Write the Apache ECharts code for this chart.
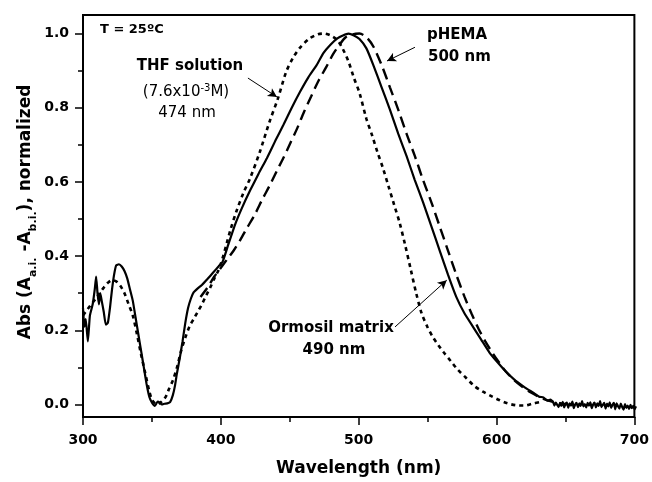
<!DOCTYPE html>
<html>
<head>
<meta charset="utf-8">
<script src="https://cdn.jsdelivr.net/npm/echarts@6/dist/echarts.min.js"></script>
<style>
  html, body { margin: 0; padding: 0; background: #fff; }
  #absChart { width: 652px; height: 482px; }
</style>
</head>
<body>
<div id="absChart"></div>
<script>
// Ormosil matrix (solid)
let ormosilX = [300, 301, 302, 303.5, 305, 307, 308.5, 309.5, 310.5, 311.5, 312.5, 313.5, 315, 316.5, 318, 319.5, 321, 322.5, 324, 326, 328, 330, 332, 334, 336, 338, 340, 342, 344, 346, 348, 350, 352, 354, 355.5, 357, 359, 361, 363, 365, 366.5, 368, 370, 372, 374, 376, 378, 380, 383, 386, 390, 394, 398, 401, 405, 410, 415, 421, 427, 433, 439, 445, 451, 457, 463, 469, 474, 479, 484, 488, 492, 496, 500, 505, 510, 516, 522, 528, 534, 540, 546, 552, 558, 564, 570, 576, 582, 588, 594, 600, 606, 612, 618, 622, 626, 630, 633, 636, 638,
  640, 641, 642, 643, 644, 645, 646, 647, 648, 649, 650, 651, 652, 653, 654, 655, 656, 657, 658, 659, 660, 661, 662, 663, 664, 665, 666, 667, 668, 669, 670, 671, 672, 673, 674, 675, 676, 677, 678, 679, 680, 681, 682, 683, 684, 685, 686, 687, 688, 689, 690, 691, 692, 693, 694, 695, 696, 697, 698, 699, 700]
let ormosilY = [0.26, 0.21, 0.23, 0.17, 0.24, 0.27, 0.31, 0.345, 0.30, 0.27, 0.30, 0.28, 0.25, 0.215, 0.22, 0.26, 0.31, 0.35, 0.375, 0.378, 0.372, 0.36, 0.34, 0.31, 0.28, 0.235, 0.19, 0.145, 0.10, 0.055, 0.02, 0.004, -0.004, 0.008, 0.005, 0.0, 0.002, 0.003, 0.006, 0.025, 0.05, 0.085, 0.125, 0.17, 0.22, 0.26, 0.285, 0.302, 0.313, 0.322, 0.338, 0.355, 0.372, 0.385, 0.43, 0.485, 0.53, 0.578, 0.622, 0.664, 0.71, 0.754, 0.80, 0.843, 0.882, 0.915, 0.948, 0.97, 0.987, 0.995, 1.0, 0.995, 0.985, 0.96, 0.915, 0.855, 0.795, 0.73, 0.67, 0.605, 0.545, 0.48, 0.415, 0.35, 0.29, 0.245, 0.21, 0.175, 0.14, 0.113, 0.088, 0.067, 0.05, 0.04, 0.031, 0.021, 0.019, 0.01, 0.013,
  0.007, -0.003, 0.005, -0.001, -0.007, 0.004, -0.004, 0.007, -0.008, 0.002, 0.005, -0.009, 0.003, -0.003, 0.008, -0.010, 0.0, 0.004, -0.007, 0.003, -0.004, 0.009, -0.005, 0.001, -0.008, 0.004, -0.003, 0.006, -0.010, 0.0, 0.005, -0.008, 0.003, -0.004, 0.009, -0.007, -0.001, 0.004, -0.011, 0.002, -0.005, 0.006, -0.009, -0.001, 0.004, -0.013, 0.003, -0.005, -0.011, 0.002, -0.007, -0.014, 0.001, -0.009, -0.003, -0.012, -0.001, -0.010, -0.004, -0.013, -0.005]

// THF solution (dotted)
let thfX = [300, 303, 306, 309, 312, 315, 318, 321, 324, 327, 330, 333, 336, 339, 342, 345, 348, 350, 352, 354, 356, 358, 360, 362, 365, 368, 371, 374, 377, 380, 383, 386, 389, 392, 395, 398, 401, 404, 407, 411, 416, 421, 428, 435, 441, 447, 452, 457, 464, 470, 474, 479, 484, 488, 492, 496, 500, 505, 509, 513, 517, 521, 525, 529, 533, 537, 541, 545, 549, 553, 557, 561, 566, 571, 577, 583, 589, 595, 601, 607, 613, 619, 625, 630]
let thfY = [0.24, 0.255, 0.27, 0.284, 0.30, 0.315, 0.328, 0.335, 0.332, 0.32, 0.30, 0.27, 0.24, 0.19, 0.135, 0.085, 0.035, 0.012, 0.003, 0.0, 0.005, 0.012, 0.022, 0.04, 0.065, 0.10, 0.145, 0.18, 0.21, 0.23, 0.25, 0.27, 0.293, 0.315, 0.34, 0.362, 0.395, 0.435, 0.475, 0.521, 0.57, 0.611, 0.682, 0.763, 0.825, 0.897, 0.935, 0.962, 0.987, 0.998, 1.0, 0.995, 0.982, 0.958, 0.925, 0.88, 0.84, 0.77, 0.727, 0.68, 0.637, 0.588, 0.539, 0.49, 0.43, 0.365, 0.30, 0.245, 0.21, 0.182, 0.16, 0.14, 0.117, 0.094, 0.072, 0.05, 0.035, 0.023, 0.012, 0.003, -0.002, -0.003, 0.002, 0.006]

// pHEMA (dashed)
let phemaX = [385, 390, 395, 400, 405, 409, 414, 418, 424, 430, 435, 440, 445, 450, 455, 460, 465, 470, 476, 481, 485, 490, 495, 500, 505, 510, 516, 522, 528, 534, 540, 546, 552, 558, 564, 570, 576, 581, 586, 591, 596, 601, 606, 612, 618, 624, 630, 636, 642, 650]
let phemaY = [0.29, 0.315, 0.345, 0.37, 0.395, 0.415, 0.445, 0.472, 0.51, 0.555, 0.59, 0.628, 0.665, 0.705, 0.745, 0.79, 0.83, 0.87, 0.91, 0.945, 0.967, 0.99, 0.998, 1.0, 0.99, 0.965, 0.915, 0.855, 0.795, 0.73, 0.67, 0.605, 0.545, 0.48, 0.415, 0.35, 0.29, 0.245, 0.205, 0.17, 0.14, 0.113, 0.088, 0.065, 0.047, 0.032, 0.02, 0.011, 0.005, 0.0]

let xTicks = [300, 700, 100]
let yTicks = [0, 1, 0.2]

// annotation arrows, [fromX, fromY, toX, toY] in data units
let thfArrow = [419.3, 0.88, 440.3, 0.829]
let phemaArrow = [540.1, 0.963, 519.9, 0.926]
let ormosilArrow = [525.7, 0.209, 563.1, 0.335]

const zip = (xs, ys) => xs.map((x, i) => [x, ys[i]])
const arrow = a => [{coord: [a[0], a[1]]}, {coord: [a[2], a[3]]}]

const FONT = 'DejaVu Sans'
const H = 482
const GL = 83
const GR = 16
const GT = 15
const GB = 59
const YMIN = -0.05
const YMAX = 1.05
// the frame spans -0.05..1.05; a second grid spans 0..1 so ticks start at 0,
// and the curves are drawn on that second grid (unclipped)
const pxPerUnit = (H - GT - GB) / (YMAX - YMIN)
const y0px = H - GB + YMIN * pxPerUnit
const y1px = y0px - pxPerUnit

let myChart = echarts.init(document.getElementById('absChart'), null, {renderer: 'canvas'})
myChart.setOption({
  animation: false,
  backgroundColor: '#fff',
  textStyle: {fontFamily: FONT, color: '#000'},
  grid: [
    {
      left: GL, right: GR, top: GT, bottom: GB,
      show: true, borderColor: '#000', borderWidth: 2
    },
    {
      left: GL, right: GR, top: y1px, bottom: H - y0px,
      show: false
    }
  ],
  xAxis: [
    {
      type: 'value',
      gridIndex: 0,
      min: xTicks[0],
      max: xTicks[1],
      interval: xTicks[2],
      name: 'Wavelength (nm)',
      nameLocation: 'middle',
      nameGap: 43,
      nameTextStyle: {fontFamily: FONT, fontWeight: 'bold', fontSize: 17, color: '#000'},
      splitLine: {show: false},
      axisLine: {onZero: false, lineStyle: {color: '#000', width: 2}},
      axisTick: {inside: false, length: 8, lineStyle: {color: '#000', width: 1.5}},
      minorTick: {show: true, splitNumber: 2, length: 5, lineStyle: {color: '#000', width: 1.5}},
      axisLabel: {margin: 16, fontFamily: FONT, fontWeight: 'bold', fontSize: 14, color: '#000'}
    },
    {
      type: 'value',
      gridIndex: 1,
      min: xTicks[0],
      max: xTicks[1],
      show: false
    }
  ],
  yAxis: [
    {
      type: 'value',
      gridIndex: 0,
      min: YMIN,
      max: YMAX,
      splitLine: {show: false},
      axisLine: {onZero: false, lineStyle: {color: '#000', width: 2}},
      axisTick: {show: false},
      axisLabel: {show: false}
    },
    {
      type: 'value',
      gridIndex: 1,
      min: yTicks[0],
      max: yTicks[1],
      interval: yTicks[2],
      splitLine: {show: false},
      axisLine: {show: false},
      axisTick: {inside: false, length: 8, lineStyle: {color: '#000', width: 1.5}},
      minorTick: {show: true, splitNumber: 2, length: 5, lineStyle: {color: '#000', width: 1.5}},
      axisLabel: {
        margin: 14, fontFamily: FONT, fontWeight: 'bold', fontSize: 14, color: '#000',
        formatter: v => v.toFixed(1)
      }
    }
  ],
  graphic: [
    {
      type: 'text', left: 100, top: 23,
      style: {text: 'T = 25ºC', font: 'bold 13px "DejaVu Sans"', fill: '#000'}
    },
    {
      type: 'text', x: 190, y: 66,
      style: {text: 'THF solution', font: 'bold 15px "DejaVu Sans"', fill: '#000', align: 'center', verticalAlign: 'middle'}
    },
    {
      type: 'text', x: 186, y: 92,
      style: {
        text: '(7.6x10{sup|-3}M)', font: '15px "DejaVu Sans"', fill: '#000', align: 'center', verticalAlign: 'middle',
        rich: {sup: {fontSize: 10, fontFamily: FONT, verticalAlign: 'top', lineHeight: 18, fill: '#000'}}
      }
    },
    {
      type: 'text', x: 187, y: 113,
      style: {text: '474 nm', font: '15px "DejaVu Sans"', fill: '#000', align: 'center', verticalAlign: 'middle'}
    },
    {
      type: 'text', left: 427, top: 28,
      style: {text: 'pHEMA', font: 'bold 15px "DejaVu Sans"', fill: '#000'}
    },
    {
      type: 'text', left: 428, top: 50,
      style: {text: '500 nm', font: 'bold 15px "DejaVu Sans"', fill: '#000'}
    },
    {
      type: 'text', x: 331, y: 328,
      style: {text: 'Ormosil matrix', font: 'bold 15px "DejaVu Sans"', fill: '#000', align: 'center', verticalAlign: 'middle'}
    },
    {
      type: 'text', x: 334, y: 350,
      style: {text: '490 nm', font: 'bold 15px "DejaVu Sans"', fill: '#000', align: 'center', verticalAlign: 'middle'}
    },
    {
      type: 'text', x: 26, y: 212, rotation: Math.PI / 2,
      style: {
        text: 'Abs (A{s|a.i.} -A{s|b.i.}), normalized',
        font: 'bold 17px "DejaVu Sans"', fill: '#000', align: 'center', verticalAlign: 'middle',
        rich: {s: {fontSize: 11, fontWeight: 'bold', fontFamily: FONT, verticalAlign: 'bottom', lineHeight: 26, fill: '#000'}}
      }
    }
  ],
  series: [
    {
      name: 'THF solution',
      type: 'line',
      xAxisIndex: 1,
      yAxisIndex: 1,
      clip: false,
      showSymbol: false,
      smooth: 0.3,
      lineStyle: {color: '#000', width: 2.6, type: [4, 4]},
      data: zip(thfX, thfY),
      markLine: {
        silent: true,
        symbol: ['none', 'arrow'],
        symbolSize: [7, 9],
        label: {show: false},
        lineStyle: {color: '#000', width: 1, type: 'solid'},
        data: [arrow(thfArrow), arrow(phemaArrow), arrow(ormosilArrow)]
      }
    },
    {
      name: 'pHEMA',
      type: 'line',
      xAxisIndex: 1,
      yAxisIndex: 1,
      clip: false,
      showSymbol: false,
      smooth: 0.3,
      lineStyle: {color: '#000', width: 2.4, type: [11, 6]},
      data: zip(phemaX, phemaY)
    },
    {
      name: 'Ormosil matrix',
      type: 'line',
      xAxisIndex: 1,
      yAxisIndex: 1,
      clip: false,
      showSymbol: false,
      smooth: 0.15,
      lineStyle: {color: '#000', width: 2.2},
      data: zip(ormosilX, ormosilY)
    }
  ]
})
</script>
</body>
</html>
